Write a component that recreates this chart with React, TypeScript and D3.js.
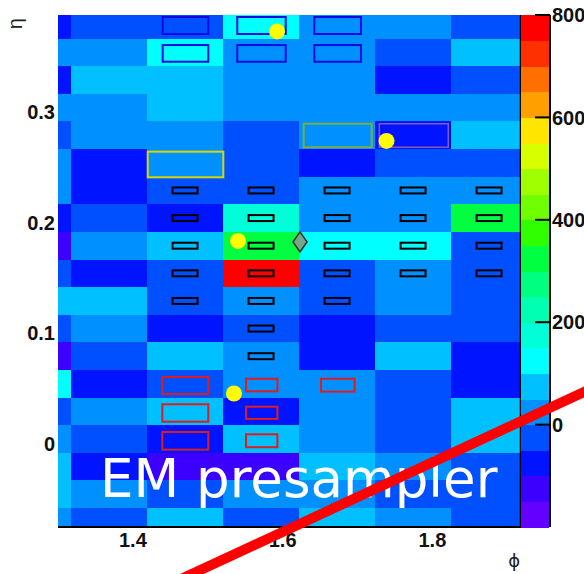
import React from 'react';
import * as d3 from 'd3';

// ---- data ----
const phiEdges = [1.3, 1.3174, 1.4189, 1.5204, 1.6219, 1.7234, 1.8249, 1.917];
const etaEdges = [0.3878, 0.3665, 0.3415, 0.3165, 0.2915, 0.2665, 0.2415, 0.2165, 0.1915, 0.1665,
  0.1415, 0.1165, 0.0915, 0.0665, 0.0415, 0.0165, -0.0085, -0.0335, -0.0585, -0.0756];

// cell energies, rows from top (high eta) to bottom, columns by phi
const cellValues = [
  [-75, -25, -25, 125, 25, 25, -25],
  [25, 25, 125, 25, 25, -25, 75],
  [-75, 75, 75, 25, 25, -75, -25],
  [25, 25, 75, 25, 25, 25, 25],
  [-25, 25, 25, -25, 25, -75, 75],
  [25, -75, 25, -25, -75, -25, -25],
  [25, -75, -25, -25, 25, 25, 25],
  [-75, -25, -75, 175, 25, 25, 325],
  [-125, 25, 75, 325, 125, 125, -25],
  [-25, -75, -25, 775, -25, 25, -25],
  [75, 75, -25, 25, -25, 25, -25],
  [-25, 25, -75, -25, -75, -25, -25],
  [-125, -25, 75, 25, -75, 75, -75],
  [125, -75, -25, 25, 25, -25, -75],
  [-25, 25, 75, -75, 25, -25, 75],
  [25, -25, -75, 75, 25, -25, 75],
  [75, -75, -125, -125, 75, 25, -25],
  [75, 25, -25, 25, 25, -25, -25],
  [25, -25, 75, -25, 75, 25, -25],
];

const levelColors = ['#6400ff', '#3c00ff', '#0014ff', '#0050ff', '#0090ff', '#00c0ff', '#00ffff',
  '#00ffd8', '#00ffb0', '#00ff80', '#00ff40', '#30ff00', '#70ff00', '#a0ff00', '#d8ff00',
  '#ffe600', '#ffa000', '#ff7000', '#ff3000', '#ff0000'];
const zDomain = [-200, 800];
const zTicks = [0, 200, 400, 600, 800];
const phiTicks = [1.4, 1.6, 1.8];
const etaTicks = [0, 0.1, 0.2, 0.3];

// overlay boxes: [phiMin, phiMax, etaMin, etaMax]
const blueBoxes = [
  [1.4398, 1.5007, 0.3706, 0.3860], [1.5394, 1.6041, 0.3706, 0.3860], [1.6423, 1.7046, 0.3706, 0.3860],
  [1.4398, 1.5007, 0.3455, 0.3606], [1.5394, 1.6041, 0.3455, 0.3606], [1.6423, 1.7046, 0.3455, 0.3606],
];
const yellowBoxes = [[1.4198, 1.5208, 0.2409, 0.2641]];
const greenBoxes = [[1.6281, 1.7189, 0.2681, 0.2894]];
const purpleBoxes = [[1.7291, 1.8212, 0.2681, 0.2894]];
const redBoxes = [
  [1.4393, 1.5007, 0.0448, 0.0602], [1.4393, 1.5007, 0.0197, 0.0355], [1.4393, 1.5007, -0.0056, 0.0104],
  [1.5511, 1.5930, 0.0472, 0.0586], [1.5511, 1.5930, 0.0222, 0.0333], [1.5511, 1.5930, -0.0034, 0.0083],
  [1.6512, 1.6961, 0.0469, 0.0586],
];
// fine cells: [phi, eta] centres
const fineCellPhi = [1.4697, 1.5712, 1.6727, 1.7742, 1.8757];
const fineCells = [
  ...[0.229, 0.204, 0.179, 0.154].flatMap((e) => fineCellPhi.map((p) => [p, e])),
  [1.4697, 0.129], [1.5712, 0.129], [1.6727, 0.129],
  [1.5712, 0.104], [1.5712, 0.079],
];
const fineHalfPhi = 0.0167;
const fineHalfEta = 0.0027;

const clusterPoints = [[1.5925, 0.3729], [1.5404, 0.1833], [1.7387, 0.2738], [1.5350, 0.0452]];
const diamondPoint = [1.6232, 0.1824];
const cutLine = [[1.4229, -0.1357], [2.0505, 0.0617]];

// ---- layout ----
const W = 584;
const H = 574;
const plotL = 58, plotR = 520, plotT = 15, plotB = 527;
const palL = 521, palR = 549;

export default function App() {
  const x = d3.scaleLinear().domain([1.3, 1.917]).range([plotL, plotR]);
  const y = d3.scaleLinear().domain([-0.0756, 0.3878]).range([plotB, plotT]);
  const z = d3.scaleLinear().domain(zDomain).range([plotB, plotT]);
  const color = d3.scaleQuantize<string>().domain(zDomain).range(levelColors);
  const levels = d3.range(zDomain[0], zDomain[1], 50);

  const boxRect = (b: number[], stroke: string, sw: number, key: string) => (
    <rect key={key} x={x(b[0])} y={y(b[3])} width={x(b[1]) - x(b[0])} height={y(b[2]) - y(b[3])}
      fill="none" stroke={stroke} strokeWidth={sw} />
  );

  const tickFont = { fontFamily: '"Liberation Sans", Arial, sans-serif', fontWeight: 700, fontSize: 20 };
  const dx = x(diamondPoint[0]);
  const dy = y(diamondPoint[1]);

  return (
    <svg width={W} height={H} style={{ position: 'absolute', left: 0, top: 0, background: '#fff' }}>
      {/* heatmap cells */}
      <g shapeRendering="crispEdges">
        {cellValues.map((row, ri) =>
          row.map((v, ci) => {
            const x0 = x(phiEdges[ci]);
            const x1 = x(phiEdges[ci + 1]);
            const y0 = y(etaEdges[ri]);
            const y1 = y(etaEdges[ri + 1]);
            return <rect key={`${ri}-${ci}`} x={x0} y={y0} width={x1 - x0 + 0.5} height={y1 - y0 + 0.5} fill={color(v)} />;
          })
        )}
      </g>

      {/* overlay boxes */}
      {blueBoxes.map((b, i) => boxRect(b, '#0a0ae6', 2, `bl${i}`))}
      {yellowBoxes.map((b, i) => boxRect(b, '#d8d800', 2, `ye${i}`))}
      {greenBoxes.map((b, i) => boxRect(b, '#78b040', 2, `gr${i}`))}
      {purpleBoxes.map((b, i) => boxRect(b, '#8a58b8', 1.5, `pu${i}`))}
      {redBoxes.map((b, i) => boxRect(b, '#e01c1c', 2, `rd${i}`))}
      {fineCells.map((c, i) =>
        boxRect([c[0] - fineHalfPhi, c[0] + fineHalfPhi, c[1] - fineHalfEta, c[1] + fineHalfEta], '#000', 2, `fc${i}`)
      )}

      {/* cluster markers */}
      {clusterPoints.map((p, i) => (
        <circle key={`cp${i}`} cx={x(p[0])} cy={y(p[1])} r={8} fill="#ffff00" />
      ))}
      <path d={`M${dx},${dy - 10} L${dx + 7},${dy} L${dx},${dy + 10} L${dx - 7},${dy} Z`}
        fill="#74a88a" stroke="#2a2a2a" strokeWidth={1.5} />

      {/* frame */}
      <line x1={plotL} x2={plotR + 1} y1={plotB} y2={plotB} stroke="#000" strokeWidth={2} />
      <line x1={plotR + 0.5} x2={plotR + 0.5} y1={plotT} y2={plotB} stroke="#000" strokeWidth={1.5} />

      {/* axis tick labels */}
      {etaTicks.map((t) => (
        <text key={`et${t}`} x={55} y={y(t)} dy="0.36em" textAnchor="end" fill="#111" style={tickFont}>
          {t === 0 ? '0' : t.toFixed(1)}
        </text>
      ))}
      {phiTicks.map((t) => (
        <text key={`pt${t}`} x={x(t)} y={547} textAnchor="middle" fill="#111" style={tickFont}>
          {t.toFixed(1)}
        </text>
      ))}
      <text x={0} y={0} transform="translate(22,18) rotate(-90)" textAnchor="end" fill="#222"
        style={{ fontFamily: '"Liberation Sans", Arial, sans-serif', fontSize: 20 }}>η</text>
      <text x={520} y={567} textAnchor="end" fill="#222"
        style={{ fontFamily: '"DejaVu Sans", "Liberation Sans", sans-serif', fontSize: 18 }}>ϕ</text>

      {/* palette */}
      <g shapeRendering="crispEdges">
        {levels.map((lv) => (
          <rect key={`lv${lv}`} x={palL} y={z(lv + 50)} width={palR - palL} height={z(lv) - z(lv + 50) + 0.5} fill={color(lv + 25)} />
        ))}
      </g>
      <line x1={550} x2={550} y1={plotT} y2={plotB} stroke="#000" strokeWidth={2} />
      {zTicks.map((t) => (
        <g key={`zt${t}`}>
          <line x1={535} x2={550} y1={z(t)} y2={z(t)} stroke="#000" strokeWidth={2} />
          <text x={552} y={z(t)} dy="0.36em" fill="#111" style={tickFont}>{t}</text>
        </g>
      ))}

      {/* label */}
      <text x={100} y={497} fill="#fff" style={{ fontFamily: '"DejaVu Sans", Verdana, sans-serif', fontSize: 53 }}>
        EM presampler
      </text>

      {/* red cut line */}
      <line x1={x(cutLine[0][0])} y1={y(cutLine[0][1])} x2={x(cutLine[1][0])} y2={y(cutLine[1][1])}
        stroke="#ff0000" strokeWidth={10} />
    </svg>
  );
}
